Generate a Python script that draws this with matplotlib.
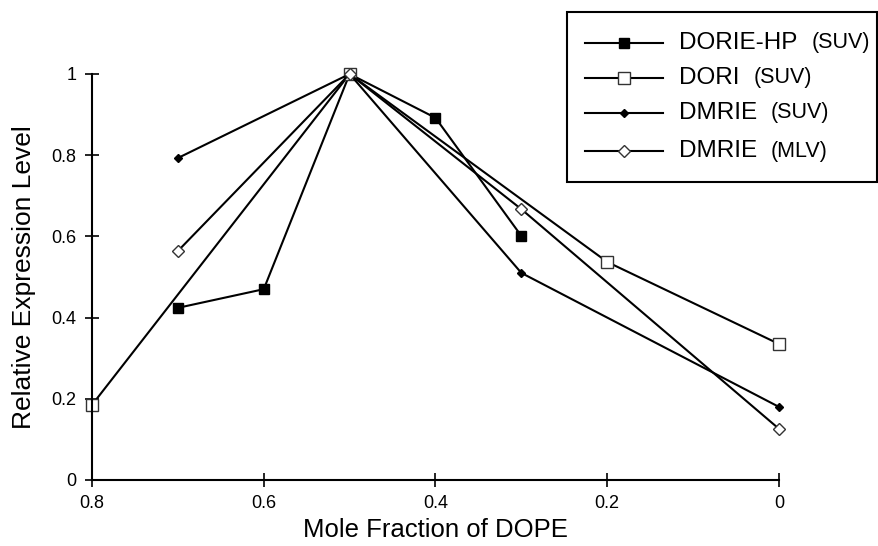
import matplotlib
matplotlib.use("Agg")
import matplotlib.pyplot as plt
from matplotlib.lines import Line2D

plt.rcParams['font.family'] = ['Liberation Sans', 'DejaVu Sans']

# Mole fraction of DOPE and relative expression for each formulation
dorie_hp_x = [0.7, 0.6, 0.5, 0.4, 0.3]
dorie_hp_y = [0.424, 0.47, 1.0, 0.892, 0.601]

dori_x = [0.8, 0.5, 0.2, 0.0]
dori_y = [0.185, 1.0, 0.537, 0.335]

dmrie_suv_x = [0.7, 0.5, 0.3, 0.0]
dmrie_suv_y = [0.793, 1.0, 0.51, 0.18]

dmrie_mlv_x = [0.7, 0.5, 0.3, 0.0]
dmrie_mlv_y = [0.564, 1.0, 0.667, 0.126]

names = ["DORIE-HP", "DORI", "DMRIE", "DMRIE"]
preps = ["(SUV)", "(SUV)", "(SUV)", "(MLV)"]

x_ticks = [0.8, 0.6, 0.4, 0.2, 0.0]
x_tick_labels = ["0.8", "0.6", "0.4", "0.2", "0"]
y_ticks = [0, 0.2, 0.4, 0.6, 0.8, 1.0]
y_tick_labels = ["0", "0.2", "0.4", "0.6", "0.8", "1"]

W, H = 879, 546
fig = plt.figure(figsize=(W / 100, H / 100), dpi=100)
ax = fig.add_axes([92 / W, 1 - 480 / H, (779 - 92) / W, (480 - 74) / H])

lw = 1.5
styles = [
    dict(marker='s', markersize=7.5, markerfacecolor='black', markeredgecolor='black'),
    dict(marker='s', markersize=8.5, markerfacecolor='white', markeredgecolor='#333333', markeredgewidth=1.0),
    dict(marker='D', markersize=4.5, markerfacecolor='black', markeredgecolor='black'),
    dict(marker='D', markersize=6, markerfacecolor='white', markeredgecolor='#333333', markeredgewidth=1.0),
]
series = [(dorie_hp_x, dorie_hp_y), (dori_x, dori_y),
          (dmrie_suv_x, dmrie_suv_y), (dmrie_mlv_x, dmrie_mlv_y)]

for (xs, ys), st in zip(series, styles):
    ax.plot(xs, ys, color='black', linewidth=lw, clip_on=False, **st)

ax.set_xlim(0.8, 0.0)
ax.set_ylim(0, 1.0)
ax.set_xticks(x_ticks)
ax.set_xticklabels(x_tick_labels)
ax.set_yticks(y_ticks)
ax.set_yticklabels(y_tick_labels)
ax.tick_params(direction='inout', length=10, width=1.2, labelsize=13)
ax.tick_params(axis='x', pad=6)
ax.tick_params(axis='y', pad=6)
for s in ['top', 'right']:
    ax.spines[s].set_visible(False)
for s in ['left', 'bottom']:
    ax.spines[s].set_linewidth(1.5)

ax.set_xlabel("Mole Fraction of DOPE", fontsize=18.5, labelpad=4)
ax.set_ylabel("Relative Expression Level", fontsize=19, labelpad=11)

# Legend drawn in figure coordinates with a two-size label
box = plt.Rectangle((567 / W, 1 - 182 / H), (877 - 567) / W, (182 - 12) / H,
                    transform=fig.transFigure, facecolor='white',
                    edgecolor='black', linewidth=1.5, zorder=5)
fig.patches.append(box)
rows = [43, 78, 113, 151]
for row, st, name, prep in zip(rows, styles, names, preps):
    yf = 1 - row / H
    fig.add_artist(Line2D([585 / W, 663 / W], [yf, yf], transform=fig.transFigure,
                          color='black', linewidth=lw, zorder=6))
    fig.add_artist(Line2D([624 / W], [yf], transform=fig.transFigure,
                          color='black', linestyle='none', zorder=7, **st))
    t = fig.text(679 / W, yf, name, fontsize=17.5, va='center', ha='left', zorder=7)
    fig.canvas.draw()
    bb = t.get_window_extent()
    fig.text((bb.x1 + 14) / W, yf, prep, fontsize=15.5,
             va='center', ha='left', zorder=7)

fig.savefig("out.png", dpi=100)
